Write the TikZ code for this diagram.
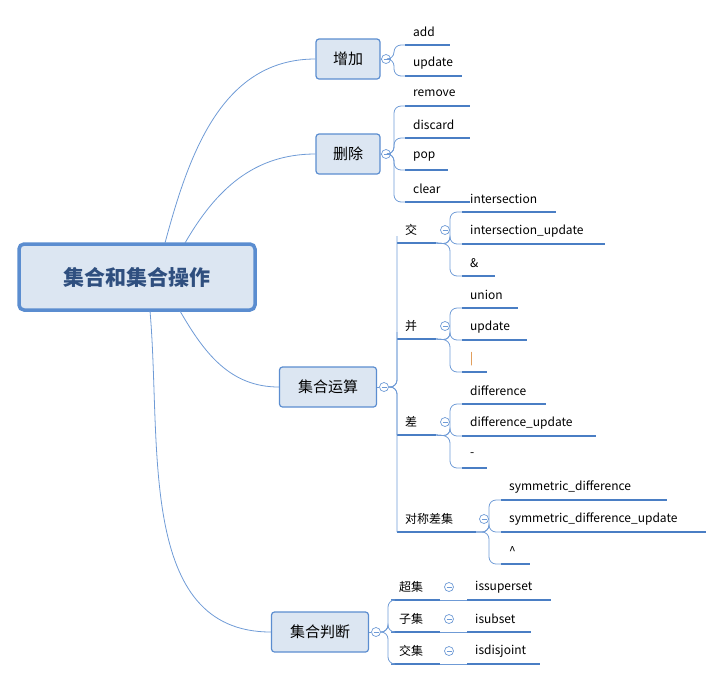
\documentclass[tikz,border=0pt]{standalone}
\usepackage{fontspec}
\setmainfont{Noto Sans CJK SC}
\definecolor{lineblue}{HTML}{6F9BD6}
\definecolor{boxblue}{HTML}{5B8DD0}
\definecolor{ulblue}{HTML}{4A7EC4}
\definecolor{boxfill}{HTML}{DCE6F2}
\definecolor{roottext}{HTML}{2F4F7F}
\definecolor{barorange}{HTML}{D9822B}
% leaf: name, line start, line end, text y, text
\newcommand\leaf[5]{\node[leaf] (#1) at (#2+8,#4) {#5};
  \draw[uline] (#2,#4+13) coordinate (#1-s) -- (#3,#4+13) coordinate (#1-e);}
\begin{document}
\begin{tikzpicture}[x=1pt, y=-1pt,
    conn/.style = {draw=lineblue, line width=0.8pt},
    branch/.style = {conn, rounded corners=7pt},
    uline/.style = {draw=ulblue, line width=2.4pt},
    leaf/.style = {anchor=west, inner sep=0pt, font=\fontsize{12}{14}\selectfont},
    topic/.style = {draw=boxblue, fill=boxfill, rounded corners=3pt, line width=1.2pt,
                    minimum height=40pt, inner xsep=12pt, font=\fontsize{15}{18}\selectfont},
    root/.style = {draw=boxblue, fill=boxfill, rounded corners=5pt, line width=3.5pt,
                   minimum width=236pt, minimum height=66pt, text=roottext,
                   font=\bfseries\fontsize{21}{24}\selectfont},
    coll/.style = {circle, draw=lineblue, fill=white, minimum size=9pt, inner sep=0pt,
                   line width=0.7pt, path picture={\draw[lineblue, line width=0.7pt]
                   ([xshift=2pt]path picture bounding box.west) -- ([xshift=-2pt]path picture bounding box.east);}}
  ]
  \useasboundingbox (0,0) rectangle (722,681);

  \node[root] (root) at (137,277) {集合和集合操作};

  \node[topic, minimum width=64pt] (add) at (348,59) {增加};
  \node[topic, minimum width=64pt] (del) at (348,154) {删除};
  \node[topic, minimum width=97pt] (ops) at (328,387) {集合运算};
  \node[topic, minimum width=97pt] (cmp) at (320,632) {集合判断};

  \draw[conn] (165,243) coordinate (r1) to[out=75, in=180] (add.west);
  \draw[conn] (185,243) coordinate (r2) to[out=60, in=180] (del.west);
  \draw[conn] (180,311) coordinate (r3) to[out=-60, in=180] (ops.west);
  \draw[conn] (150,311) coordinate (r4) to[out=-85, in=180] (cmp.west);

  % 增加
  \leaf{a1}{405}{450}{32}{add}
  \leaf{a2}{405}{462}{63}{update}
  \node[coll] (ca) at (386,59) {};
  \draw[conn] (add.east) -- (ca);
  \foreach \n in {a1, a2} \draw[branch] (ca.east) -- (394,59) |- (\n-s);

  % 删除
  \leaf{d1}{405}{470}{93}{remove}
  \leaf{d2}{405}{470}{125}{discard}
  \leaf{d3}{405}{448}{157}{pop}
  \leaf{d4}{405}{470}{189}{clear}
  \node[coll] (cd) at (386,154) {};
  \draw[conn] (del.east) -- (cd);
  \foreach \n in {d1, d2, d3, d4} \draw[branch] (cd.east) -- (394,154) |- (\n-s);

  % 集合运算
  \node[coll] (co) at (384,387) {};
  \draw[conn] (ops.east) -- (co);
  \leaf{jiao}{397}{436}{230}{交}
  \leaf{bing}{397}{436}{326}{并}
  \leaf{cha}{397}{436}{422}{差}
  \leaf{dc}{397}{476}{519}{对称差集}
  \foreach \n in {jiao, bing, cha, dc} \draw[branch] (co.east) -- (397,387) |- (\n-s);

  \leaf{j1}{462}{556}{199}{intersection}
  \leaf{j2}{462}{605}{231}{intersection\_update}
  \leaf{j3}{462}{495}{263}{\&}
  \node[coll] at (445,230) {};
  \foreach \n in {j1, j2, j3} \draw[branch] (jiao-e) -- (450,244) |- (\n-s);

  \leaf{b1}{462}{518}{295}{union}
  \leaf{b2}{462}{527}{327}{update}
  \leaf{b3}{462}{487}{359}{\textcolor{barorange}{|}}
  \node[coll] at (445,326) {};
  \foreach \n in {b1, b2, b3} \draw[branch] (bing-e) -- (450,340) |- (\n-s);

  \leaf{c1}{462}{546}{391}{difference}
  \leaf{c2}{462}{596}{423}{difference\_update}
  \leaf{c3}{462}{487}{455}{-}
  \node[coll] at (445,422) {};
  \foreach \n in {c1, c2, c3} \draw[branch] (cha-e) -- (450,436) |- (\n-s);

  \leaf{s1}{501}{667}{487}{symmetric\_difference}
  \leaf{s2}{501}{706}{519}{symmetric\_difference\_update}
  \leaf{s3}{501}{530}{551}{\textasciicircum}
  \node[coll] at (484,519) {};
  \foreach \n in {s1, s2, s3} \draw[branch] (dc-e) -- (489,532) |- (\n-s);

  % 集合判断
  \node[coll] (cc) at (376,632) {};
  \draw[conn] (cmp.east) -- (cc);
  \leaf{chao}{391}{440}{587}{超集}
  \leaf{zi}{391}{440}{619}{子集}
  \leaf{jj}{391}{440}{651}{交集}
  \foreach \n in {chao, zi, jj} \draw[branch] (cc.east) -- (388,632) |- (\n-s);

  \leaf{p1}{467}{551}{587}{issuperset}
  \leaf{p2}{467}{531}{619}{isubset}
  \leaf{p3}{467}{540}{651}{isdisjoint}
  \node[coll] at (449,587) {};
  \node[coll] at (449,619) {};
  \node[coll] at (449,651) {};
  \draw[conn] (chao-e) -- (p1-s);
  \draw[conn] (zi-e) -- (p2-s);
  \draw[conn] (jj-e) -- (p3-s);
\end{tikzpicture}
\end{document}
